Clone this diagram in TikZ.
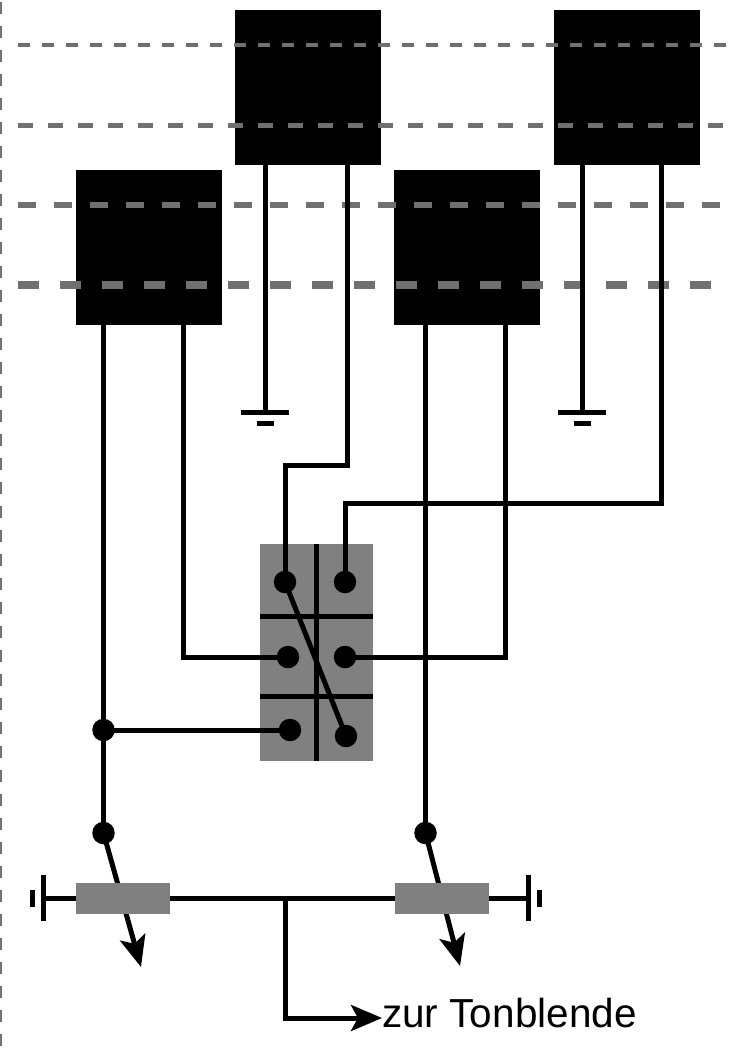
\documentclass[tikz,border=0pt]{standalone}
\usepackage{fontspec}
\setmainfont{Liberation Sans}
\usetikzlibrary{arrows.meta}

\begin{document}
\begin{tikzpicture}[x=1pt, y=-1pt, wire/.style={line width=5pt}, dot/.style={circle, fill=black, inner sep=0pt, minimum size=22.5pt},
  tube/.style={rectangle, fill=black, inner sep=0pt, minimum width=145.5pt, minimum height=154.5pt, anchor=north west},
  pot/.style={rectangle, fill=gray50, inner sep=0pt, minimum width=94pt, minimum height=31pt, anchor=north west},
  level/.style={color=gray44, line cap=butt},
  tip/.style={-{Stealth[length=31pt, width=26pt, inset=7pt]}}]
\definecolor{gray50}{HTML}{808080}
\definecolor{gray44}{HTML}{707070}
\useasboundingbox (0,0) rectangle (744,1052);
\node[tube](t1) at (235,10){};
\node[tube](t2) at (554,10){};
\node[tube](t3) at (76,170){};
\node[tube](t4) at (394,170){};
% pins under the tubes
\coordinate (p11) at ([xshift=30pt]t1.south west);
\coordinate (p12) at ([xshift=112pt]t1.south west);
\coordinate (p21) at ([xshift=28pt]t2.south west);
\coordinate (p22) at ([xshift=107pt]t2.south west);
\coordinate (p31) at ([xshift=27.5pt]t3.south west);
\coordinate (p32) at ([xshift=107pt]t3.south west);
\coordinate (p41) at ([xshift=31.5pt]t4.south west);
\coordinate (p42) at ([xshift=111pt]t4.south west);
% dashed levels
\draw[level, line width=4pt, dash pattern=on 12pt off 12pt] (18,45) -- (728,45);
\draw[level, line width=5pt, dash pattern=on 15pt off 15pt] (18,125) -- (725,125);
\draw[level, line width=6pt, dash pattern=on 18pt off 18pt] (18,205) -- (722,205);
\draw[level, line width=7.5pt, dash pattern=on 21pt off 21pt] (18,285) -- (712,285);
\draw[level, line width=4pt, dash pattern=on 12pt off 12pt] (0,2) -- (0,1052);
% switch
\node[rectangle, fill=gray50, inner sep=0pt, minimum width=113pt, minimum height=217pt, anchor=north west](sw) at (260,544){};
\draw[wire] (sw.north) ++(-0.5,0) -- ++(0,217);
\draw[wire] (sw.west |- 0,616) -- (sw.east |- 0,616);
\draw[wire] (sw.west |- 0,696) -- (sw.east |- 0,696);
\node[dot](c1) at (285,582){};
\node[dot](c2) at (345,582){};
\node[dot](c3) at (288,657){};
\node[dot](c4) at (345,657){};
\node[dot](c5) at (290,730){};
\node[dot](c6) at (346,736){};
\node[dot](j) at (103.5,730){};
\node[dot](a) at (103.5,833){};
\node[dot](b) at (425.5,833){};
\draw[wire] (c1.center) -- (c6.center);
\draw[wire] (p11) -- ++(0,247.5) coordinate (g1);
\draw[wire] (p21) -- ++(0,247.5) coordinate (g2);
\draw[wire] ([xshift=-24pt]g1) -- ([xshift=24pt]g1);
\draw[wire] ([xshift=-24pt]g2) -- ([xshift=24pt]g2);
\draw[wire] ([xshift=-8.5pt,yshift=-11pt]g1) -- ([xshift=8.5pt,yshift=-11pt]g1);
\draw[wire] ([xshift=-8.5pt,yshift=-11pt]g2) -- ([xshift=8.5pt,yshift=-11pt]g2);
\draw[wire] (p12) -- ++(0,301) -| (c1.center);
\draw[wire] (p22) -- ++(0,339) -| (c2.center);
\draw[wire] (p32) |- (c3.center);
\draw[wire] (p42) |- (c4.center);
\draw[wire] (p31) -- (j.center);
\draw[wire] (j.center) -- (c5.center);
\draw[wire] (j.center) -- (a.center);
\draw[wire] (p41) -- (b.center);
% potentiometers
\coordinate (ta) at (141,967);
\coordinate (tb) at (460,966);
\coordinate (sa) at (43,898);
\coordinate (sb) at (528,898);
\coordinate (tee) at (285,898);
\coordinate (out) at (382,1018);
\draw[wire, tip] (a.center) -- (ta);
\draw[wire, tip] (b.center) -- (tb);
\draw[wire] (sa) -- (sb);
\draw[wire] ([yshift=-23pt]sa) -- ([yshift=23pt]sa);
\draw[wire] ([yshift=-23pt]sb) -- ([yshift=23pt]sb);
\draw[wire] ([xshift=-11pt,yshift=-8.5pt]sa) -- ([xshift=-11pt,yshift=8.5pt]sa);
\draw[wire] ([xshift=11pt,yshift=-8.5pt]sb) -- ([xshift=11pt,yshift=8.5pt]sb);
\node[pot](pa) at (76,883){};
\node[pot](pb) at (395,883){};
\draw[wire, tip] (tee) |- (out);
\node[anchor=base west, inner sep=0pt, font=\fontsize{40.5}{40.5}\selectfont](lab) at (382,1027){zur Tonblende};
\end{tikzpicture}
\end{document}
